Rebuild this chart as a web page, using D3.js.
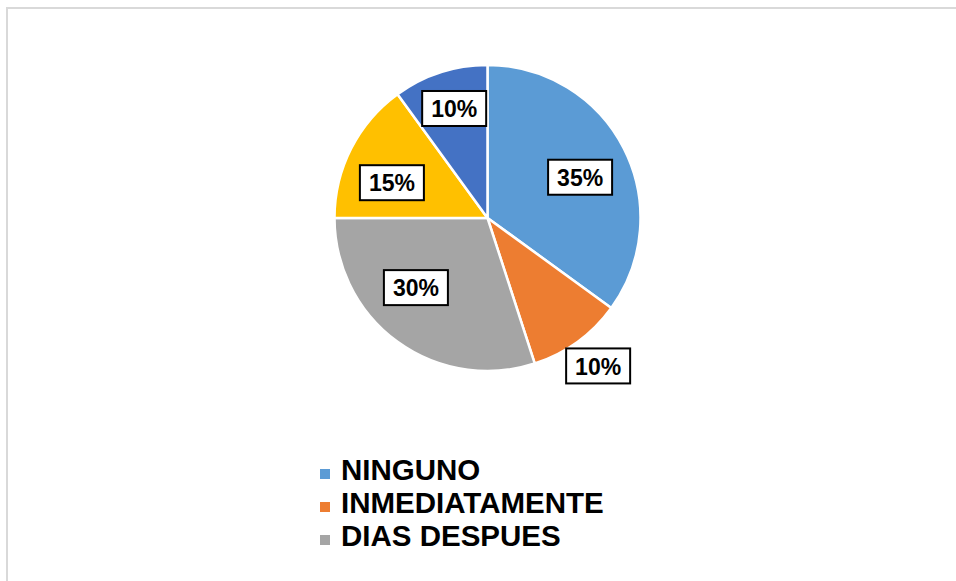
<!DOCTYPE html>
<html>
<head>
<meta charset="utf-8">
<script src="https://cdn.jsdelivr.net/npm/d3@7"></script>
<style>
  html, body { margin: 0; padding: 0; background: #fff; }
  svg { display: block; }
</style>
</head>
<body>
<svg id="chart" width="956" height="581"></svg>
<script>
// ---- data ----
const categories = ["NINGUNO", "INMEDIATAMENTE", "DIAS DESPUES", "OTRO A", "OTRO B"];
const values = [35, 10, 30, 15, 10];
const labels = ["35%", "10%", "30%", "15%", "10%"];
const legendCategories = ["NINGUNO", "INMEDIATAMENTE", "DIAS DESPUES"];

// ---- styling ----
const colors = ["#5B9BD5", "#ED7D31", "#A5A5A5", "#FFC000", "#4472C4"];
const labelRadiusFactor = [0.66, 1.21, 0.655, 0.665, 0.745];
const labelAngleShift = [3.5, -0.7, 9.6, -7, 1];   // degrees

const W = 956, H = 581;
const cx = 487.5, cy = 218, R = 153;
const svg = d3.select("#chart");

svg.append("rect")
  .attr("x", 7).attr("y", 8).attr("width", 980).attr("height", 620)
  .attr("fill", "#fff").attr("stroke", "#d9d9d9").attr("stroke-width", 2);

const pie = d3.pie().value(d => d.value).sort(null);
const data = categories.map((c, i) => ({ name: c, value: values[i], label: labels[i], i }));
const arcs = pie(data);
const arc = d3.arc().innerRadius(0).outerRadius(R);

const g = svg.append("g").attr("transform", `translate(${cx},${cy})`);
g.selectAll("path.slice")
  .data(arcs)
  .join("path")
  .attr("class", "slice")
  .attr("d", arc)
  .attr("fill", d => colors[d.data.i])
  .attr("stroke", "#fff")
  .attr("stroke-width", 2.5)
  .attr("stroke-linejoin", "round");

// labels
const lg = g.selectAll("g.lbl")
  .data(arcs)
  .join("g")
  .attr("class", "lbl")
  .attr("transform", d => {
    const a = (d.startAngle + d.endAngle) / 2 + labelAngleShift[d.data.i] * Math.PI / 180;
    const r = R * labelRadiusFactor[d.data.i];
    return `translate(${r * Math.sin(a)},${-r * Math.cos(a)})`;
  });

lg.append("rect")
  .attr("x", -32).attr("y", -18).attr("width", 64).attr("height", 35)
  .attr("fill", "#fff").attr("stroke", "#000").attr("stroke-width", 2);

lg.append("text")
  .attr("text-anchor", "middle")
  .attr("dy", "0.36em")
  .attr("font-family", "Liberation Sans, Arial, sans-serif")
  .attr("font-weight", "bold")
  .attr("font-size", 23)
  .attr("fill", "#000")
  .text(d => d.data.label);

// legend
const legend = svg.append("g");
const leg = legend.selectAll("g")
  .data(legendCategories)
  .join("g")
  .attr("transform", (d, i) => `translate(320,${480 + i * 33})`);

leg.append("rect")
  .attr("x", 0).attr("y", -11).attr("width", 10).attr("height", 10)
  .attr("fill", d => colors[categories.indexOf(d)]);

leg.append("text")
  .attr("x", 21).attr("y", 0)
  .attr("font-family", "Liberation Sans, Arial, sans-serif")
  .attr("font-weight", "bold")
  .attr("font-size", 29.5)
  .attr("fill", "#000")
  .text(d => d);
</script>
</body>
</html>
